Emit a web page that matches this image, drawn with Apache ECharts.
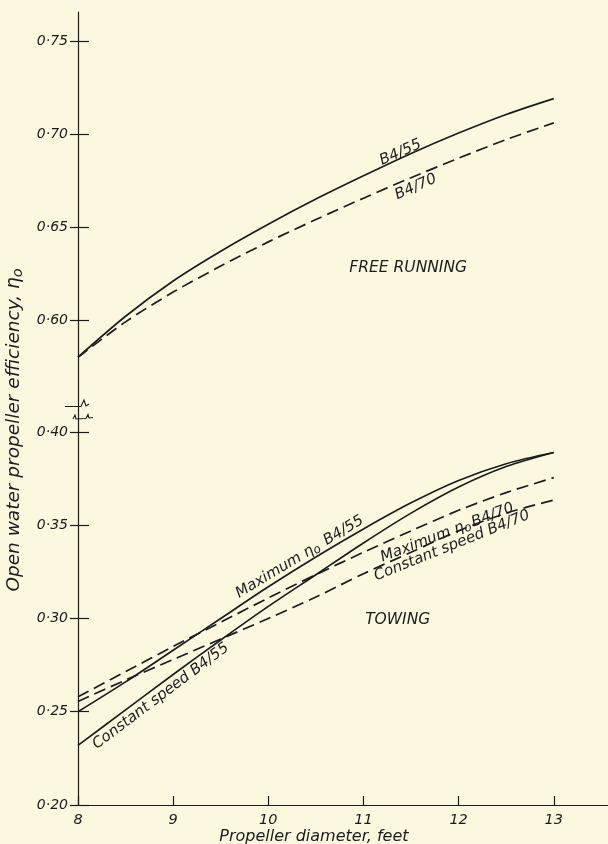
<!DOCTYPE html>
<html><head><meta charset="utf-8">
<script src="https://cdn.jsdelivr.net/npm/echarts@6/dist/echarts.min.js"></script>
<style>html,body{margin:0;padding:0;background:#fbf8df;} #c{width:608px;height:844px;}</style>
</head><body><div id="c"></div>
<script>
// ---- data ----
const diameters    = [8, 8.5, 9, 9.5, 10, 10.5, 11, 11.5, 12, 12.5, 13];
const freeB455     = [0.580, 0.602, 0.621, 0.637, 0.6515, 0.665, 0.6775, 0.6895, 0.7005, 0.7105, 0.719];
const freeB470     = [0.580, 0.599, 0.615, 0.629, 0.642, 0.654, 0.6655, 0.6765, 0.687, 0.697, 0.706];
const towMaxB455   = [0.250, 0.266, 0.283, 0.300, 0.317, 0.333, 0.348, 0.362, 0.374, 0.383, 0.389];
const towConstB455 = [0.232, 0.251, 0.270, 0.2885, 0.3065, 0.3235, 0.3405, 0.3565, 0.3705, 0.3815, 0.389];
const towMaxB470   = [0.258, 0.2715, 0.285, 0.298, 0.311, 0.3235, 0.3355, 0.347, 0.358, 0.3675, 0.3755];
const towConstB470 = [0.2555, 0.267, 0.278, 0.289, 0.300, 0.3115, 0.324, 0.3355, 0.347, 0.3565, 0.3635];
const xTicks       = [8, 9, 10, 11, 12, 13];
const yTicksUpper  = [0.60, 0.65, 0.70, 0.75];
const yTicksLower  = [0.20, 0.25, 0.30, 0.35, 0.40];
const xTitle = 'Propeller diameter, feet';
const yTitle = 'Open water propeller efficiency, ';

// annotation texts anchored in data coordinates
const notes = [
  {part: 'upper', x: 11.39, y: 0.690, rot: 24, size: 15, text: 'B4/55'},
  {part: 'upper', x: 11.55, y: 0.6715, rot: 24, size: 15, text: 'B4/70'},
  {part: 'upper', x: 11.47, y: 0.628, rot: 0, size: 15.5, text: 'FREE RUNNING'},
  {part: 'lower', x: 11.36, y: 0.299, rot: 0, size: 15.5, text: 'TOWING'},
  {part: 'lower', x: 10.33, y: 0.333, rot: 31, size: 15, text: '{a|Maximum η}{s|o}{a| B4/55}'},
  {part: 'lower', x: 11.88, y: 0.346, rot: 21, size: 15, text: '{a|Maximum η}{s|o}{a|B4/70}'},
  {part: 'lower', x: 11.93, y: 0.339, rot: 22, size: 15, text: 'Constant speed B4/70'},
  {part: 'lower', x: 8.87, y: 0.2584, rot: 37, size: 15, text: 'Constant speed B4/55'}
];

const INK = '#1c1c1c';
const FONT = 'DejaVu Sans';
const pair = arr => diameters.map((d, i) => [d, arr[i]]);
const fmt = v => v.toFixed(2).replace('.', '·');
const UP = [0.55054, 0.76559], LO = [0.20, 0.41072];

const chart = echarts.init(document.getElementById('c'), null, {renderer: 'canvas'});

function yAx(gridIndex, range, ticks, main) {
  return {
    type: 'value', gridIndex, min: range[0], max: range[1], position: 'left',
    axisLine: {show: main, onZero: false, lineStyle: {color: INK, width: 1.2}},
    axisTick: {show: true, inside: !main, length: main ? 8 : 11, customValues: ticks,
               lineStyle: {color: INK, width: 1.2}},
    axisLabel: {show: main, customValues: ticks, margin: 10, formatter: fmt,
                color: INK, fontFamily: FONT, fontStyle: 'italic', fontSize: 14},
    splitLine: {show: false}
  };
}
function xAx(gridIndex, show) {
  return {
    type: 'value', gridIndex, min: 8, max: 13.57, show, position: 'bottom',
    axisLine: {show: true, onZero: false, lineStyle: {color: INK, width: 1.2}},
    axisTick: {show: true, inside: true, length: 9, customValues: xTicks, lineStyle: {color: INK, width: 1.2}},
    axisLabel: {show: true, customValues: xTicks, margin: 8, color: INK,
                fontFamily: FONT, fontStyle: 'italic', fontSize: 14.5},
    splitLine: {show: false}
  };
}
function line(xi, yi, arr, dashed) {
  return {type: 'line', xAxisIndex: xi, yAxisIndex: yi, data: pair(arr), smooth: 0.3,
          symbol: 'none', silent: true,
          lineStyle: {color: INK, width: 1.7, type: dashed ? [12, 6] : 'solid'}};
}

const upperRect = {left: 78, width: 530, top: 12, height: 400, outerBoundsMode: 'none'};
const lowerRect = {left: 78, width: 530, top: 412, height: 393, outerBoundsMode: 'none'};

chart.setOption({
  animation: false,
  backgroundColor: '#fbf8df',
  grid: [upperRect, lowerRect, Object.assign({}, upperRect), Object.assign({}, lowerRect)],
  xAxis: [xAx(0, false), xAx(1, true), xAx(2, false), xAx(3, false)],
  yAxis: [
    yAx(0, UP, yTicksUpper, true),
    yAx(1, LO, yTicksLower, true),
    yAx(2, UP, yTicksUpper, false),
    yAx(3, LO, yTicksLower, false)
  ],
  series: [
    line(0, 0, freeB455, false),
    line(0, 0, freeB470, true),
    line(1, 1, towMaxB455, false),
    line(1, 1, towConstB455, false),
    line(1, 1, towMaxB470, true),
    line(1, 1, towConstB470, true)
  ]
});

const graphics = [];
notes.forEach(n => {
  const finder = n.part === 'upper' ? {xAxisIndex: 0, yAxisIndex: 0} : {xAxisIndex: 1, yAxisIndex: 1};
  const p = chart.convertToPixel(finder, [n.x, n.y]);
  graphics.push({
    type: 'text', x: p[0], y: p[1], rotation: n.rot * Math.PI / 180, silent: true,
    style: {
      text: n.text, fill: INK, align: 'center', verticalAlign: 'middle',
      textAlign: 'center', textVerticalAlign: 'middle',
      font: 'italic ' + n.size + 'px "' + FONT + '"',
      rich: {
        a: {fontFamily: FONT, fontStyle: 'italic', fontSize: n.size, fill: INK, lineHeight: 20},
        s: {fontFamily: FONT, fontStyle: 'italic', fontSize: n.size - 3, fill: INK, lineHeight: 20, padding: [6, 2, 0, 0]}
      }
    }
  });
});
// axis titles
const xc = chart.convertToPixel({xAxisIndex: 1, yAxisIndex: 1}, [10.5, 0.20]);
graphics.push({type: 'text', x: xc[0] - 2, y: xc[1] + 32, silent: true,
  style: {text: xTitle, fill: INK, align: 'center', verticalAlign: 'middle',
          font: 'italic 16px "' + FONT + '"'}});
graphics.push({type: 'text', x: 14, y: 430, rotation: Math.PI / 2, silent: true,
  style: {text: '{a|' + yTitle + 'η}{s|o}', align: 'center', verticalAlign: 'middle',
          font: 'italic 18.5px "' + FONT + '"',
          rich: {a: {fontFamily: FONT, fontStyle: 'italic', fontSize: 18.5, fill: INK, lineHeight: 22},
                 s: {fontFamily: FONT, fontStyle: 'italic', fontSize: 14.5, fill: INK, lineHeight: 22, padding: [8, 0, 0, 0]}}}});
// axis break marks
const axX = xc[0] - (10.5 - 8) * (xc[0] - chart.convertToPixel({xAxisIndex: 1, yAxisIndex: 1}, [8, 0.2])[0]) / 2.5;
graphics.push({type: 'polyline', silent: true,
  shape: {points: [[axX - 13, 406.5], [axX + 3, 406.5], [axX + 6, 400], [axX + 8, 406], [axX + 11, 404]]},
  style: {stroke: INK, lineWidth: 1.1, fill: null}});
graphics.push({type: 'polyline', silent: true,
  shape: {points: [[axX - 5, 419], [axX - 3, 415], [axX - 2, 419], [axX + 8, 418.5], [axX + 10, 414.5], [axX + 11, 418], [axX + 15, 417.5]]},
  style: {stroke: INK, lineWidth: 1.1, fill: null}});
chart.setOption({graphic: graphics});
</script>
</body></html>
